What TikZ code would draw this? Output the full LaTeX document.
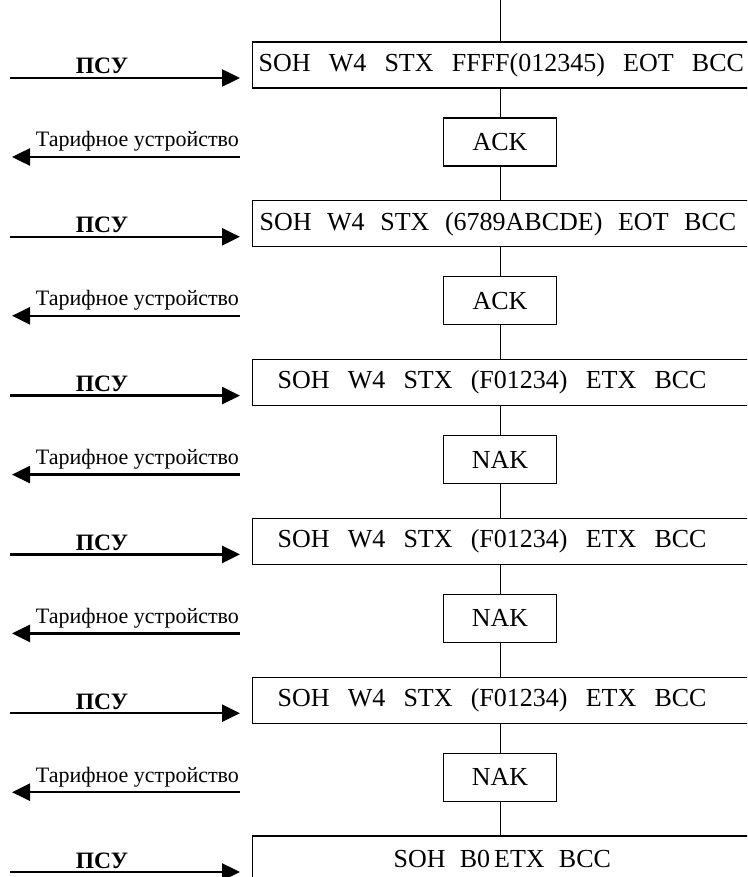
\documentclass[tikz,border=0pt]{standalone}
\usepackage{fontspec}
\setmainfont{Liberation Serif}
\usetikzlibrary{arrows.meta}
\newcommand{\gp}{\hspace{0.7em}}
\newcommand{\gq}{\hspace{0.6em}}
\newcommand{\gs}{\hspace{0.55em}}
\begin{document}
\begin{tikzpicture}[x=1pt,y=-1pt,
  bigbox/.style={draw, line width=1.2pt, anchor=west, minimum height=46pt,
    text width=540pt, align=left, inner ysep=0pt,
    font=\fontsize{26}{30}\selectfont},
  ackbox/.style={draw, line width=1.2pt, minimum width=113pt, minimum height=48pt,
    inner sep=0pt, font=\fontsize{26}{30}\selectfont},
  flow/.style={line width=1pt},
  sendarrow/.style={line width=2.5pt, -{Triangle[length=18pt,width=17pt]}},
  lbl/.style={anchor=base, font=\fontsize{22}{26}\selectfont, inner sep=0pt},
  psu/.style={anchor=base, font=\fontsize{23.5}{26}\selectfont\bfseries, inner sep=0pt}
]
\useasboundingbox (0,0) rectangle (747,877);
\clip (0,0) rectangle (747,877);

% message boxes
\node[bigbox, inner xsep=6pt]  (b1) at (252,65)    {SOH\gp W4\gp STX\gp FFFF(012345)\gp EOT\gp BCC};
\node[ackbox] (a1) at (500,142) {ACK};
\node[bigbox, inner xsep=7pt]  (b2) at (252,223.8) {SOH\gq W4\gq STX\gq (6789ABCDE)\gq EOT\gq BCC};
\node[ackbox] (a2) at (500,300.8) {ACK};
\node[bigbox, inner xsep=25pt] (b3) at (252,382.6) {SOH\gp W4\gp STX\gp (F01234)\gp ETX\gp BCC};
\node[ackbox] (a3) at (500,459.6) {NAK};
\node[bigbox, inner xsep=25pt] (b4) at (252,541.4) {SOH\gp W4\gp STX\gp (F01234)\gp ETX\gp BCC};
\node[ackbox] (a4) at (500,618.4) {NAK};
\node[bigbox, inner xsep=25pt] (b5) at (252,700.2) {SOH\gp W4\gp STX\gp (F01234)\gp ETX\gp BCC};
\node[ackbox] (a5) at (500,777.2) {NAK};
\node[bigbox, inner xsep=141pt] (b6) at (252,859) {SOH\gs B0\hspace{0.15em}ETX\gs BCC};

% vertical flow line
\coordinate (top) at (500,0);
\draw[flow] (top) -- (top |- b1.north);
\draw[flow] (a1.north) -- (a1.north |- b1.south);
\draw[flow] (a1.south) -- (a1.south |- b2.north);
\draw[flow] (a2.north) -- (a2.north |- b2.south);
\draw[flow] (a2.south) -- (a2.south |- b3.north);
\draw[flow] (a3.north) -- (a3.north |- b3.south);
\draw[flow] (a3.south) -- (a3.south |- b4.north);
\draw[flow] (a4.north) -- (a4.north |- b4.south);
\draw[flow] (a4.south) -- (a4.south |- b5.north);
\draw[flow] (a5.north) -- (a5.north |- b5.south);
\draw[flow] (a5.south) -- (a5.south |- b6.north);

% arrows
\foreach \i/\y in {1/78, 2/236.8, 3/395.6, 4/554.4, 5/713.2, 6/872} {
  \coordinate (ps\i) at (10,\y);
  \coordinate (pe\i) at (240,\y);
  \draw[sendarrow] (ps\i) -- (pe\i) node[psu, pos=0.40, yshift=4pt] {ПСУ};
}
\foreach \i/\y in {1/157, 2/315.8, 3/474.6, 4/633.4, 5/792.2} {
  \coordinate (ts\i) at (240,\y);
  \coordinate (te\i) at (12,\y);
  \draw[sendarrow] (ts\i) -- (te\i) node[lbl, pos=0.45, yshift=10pt] {Тарифное устройство};
}
\end{tikzpicture}
\end{document}
